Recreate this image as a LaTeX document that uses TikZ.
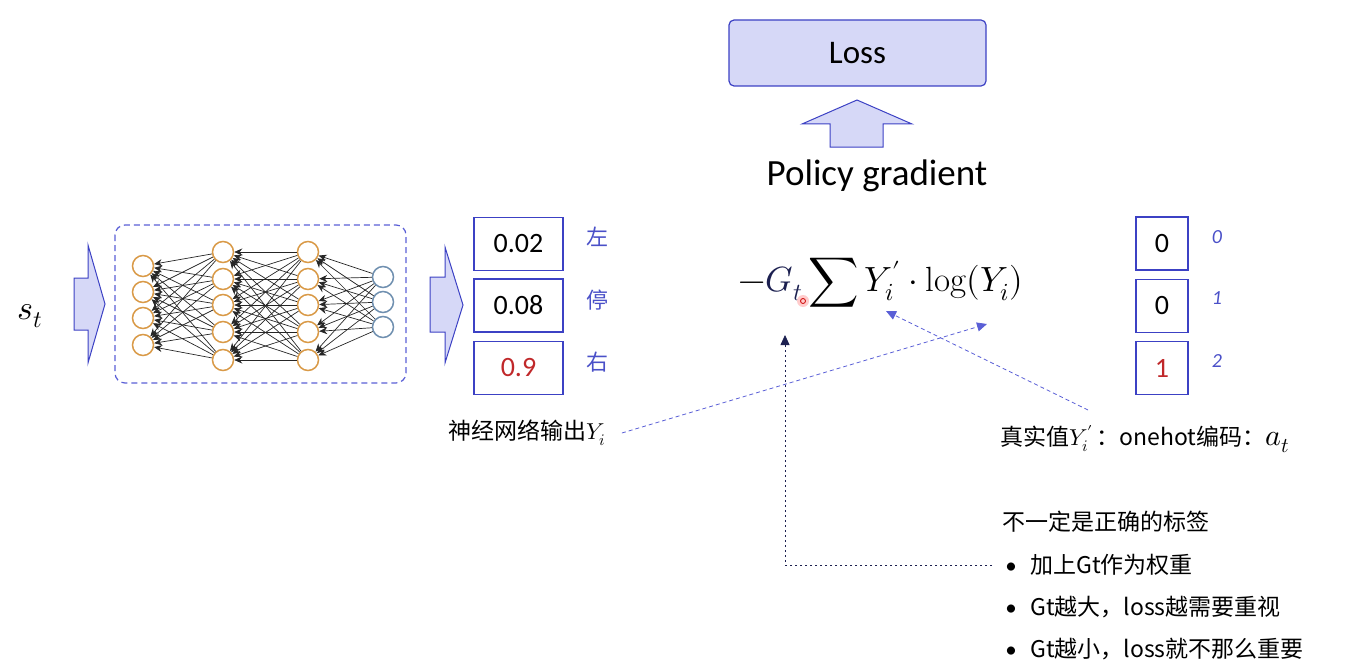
\documentclass[tikz,border=0pt]{standalone}
\usepackage{fontspec}
\usepackage{unicode-math}
\setmainfont{Carlito}
\setmathfont{Latin Modern Math}
\setmathrm{Latin Modern Roman}
\newfontfamily\cjk{Noto Sans CJK SC}
\usetikzlibrary{arrows.meta,positioning}

\definecolor{boxblue}{HTML}{3C41C4}
\definecolor{fillblue}{HTML}{D6D8F7}
\definecolor{dashblue}{HTML}{5A5FD6}
\definecolor{nnorange}{HTML}{D99A48}
\definecolor{nnblue}{HTML}{7090B0}
\definecolor{navy}{HTML}{1C2050}
\definecolor{hotred}{HTML}{C0282A}
\definecolor{labelblue}{HTML}{4A50C8}

\begin{document}
\begin{tikzpicture}[x=1pt,y=-1pt,
    neuron/.style={circle,draw=nnorange,line width=1.5pt,minimum size=21pt,inner sep=0pt},
    outneuron/.style={neuron,draw=nnblue},
    link/.style={line width=0.7pt,draw=black!85,-{Stealth[length=8pt,width=7pt]}},
    fatarrow/.style={draw=boxblue,fill=fillblue,line width=1pt,line join=miter},
    valbox/.style={draw=boxblue,line width=1.2pt,minimum width=89pt,minimum height=53pt,inner sep=0pt,font=\fontsize{28}{32}\selectfont},
    hotbox/.style={valbox,minimum width=52pt},
    dirlabel/.style={text=labelblue,font=\cjk\fontsize{22}{26}\selectfont},
    idxlabel/.style={text=labelblue,font=\itshape\fontsize{20}{24}\selectfont},
    note/.style={inner sep=0pt,font=\cjk\fontsize{23}{28}\selectfont},
    pointer/.style={draw=dashblue,line width=0.8pt,dash pattern=on 4pt off 3pt,-{Triangle[length=10pt,width=9pt]}},
    gtpointer/.style={draw=navy,line width=0.8pt,dash pattern=on 2.5pt off 2.5pt,-{Triangle[length=10pt,width=9pt]}}]
  \useasboundingbox (0,0) rectangle (1346,666);

  % input state
  \node[font=\fontsize{34}{40}\selectfont] (state) at (30,316) {$s_t$};
  \draw[fatarrow] (74,278) -- (88,278) -- (88,245) -- (105,304) -- (88,363) -- (88,330) -- (74,330) -- cycle;

  % network
  \draw[draw=dashblue,line width=1.2pt,dash pattern=on 6pt off 4pt,rounded corners=10pt] (115,225) rectangle (406,383);
  \foreach \y [count=\i] in {266,292,318,345}
    \node[neuron] (a\i) at (143,\y) {};
  \foreach \y [count=\i] in {252,279,305,332,360}
    \node[neuron] (b\i) at (223,\y) {};
  \foreach \y [count=\i] in {252,279,305,332,360}
    \node[neuron] (c\i) at (308,\y) {};
  \foreach \y [count=\i] in {277,302,327}
    \node[outneuron] (d\i) at (383,\y) {};
  \foreach \i in {1,...,5}
    \foreach \j in {1,...,4}
      \draw[link] (b\i) -- (a\j);
  \foreach \i in {1,...,5}
    \foreach \j in {1,...,5}
      \draw[link] (c\i) -- (b\j);
  \foreach \i in {1,...,3}
    \foreach \j in {1,...,5}
      \draw[link] (d\i) -- (c\j);

  % network output
  \draw[fatarrow] (430,277) -- (445,277) -- (445,247) -- (463,305) -- (445,363) -- (445,332) -- (430,332) -- cycle;
  \node[valbox] (p1) at (518.5,244) {0.02};
  \node[valbox] (p2) at (518.5,305.5) {0.08};
  \node[valbox] (p3) at (518.5,368) {\color{hotred}0.9};
  \node[dirlabel] (left) at (597,237) {左};
  \node[dirlabel] (stop) at (597,300) {停};
  \node[dirlabel] (right) at (597,362) {右};
  \node[note] (nnout) at (527,433) {神经网络输出$Y_i$};

  % loss
  \node[draw=boxblue,fill=fillblue,line width=1.2pt,rounded corners=5pt,minimum width=257pt,minimum height=66pt,
        font=\fontsize{33}{38}\selectfont] (loss) at (857.5,53) {Loss};
  \draw[fatarrow] (830,147) -- (830,124) -- (802,124) -- (857,100) -- (912,124) -- (883,124) -- (883,147) -- cycle;
  \node[font=\fontsize{37}{42}\selectfont] (pg) at (877,176) {Policy gradient};
  \node[font=\fontsize{35}{40}\selectfont] (formula) at (881,283)
    {$-{\color{navy}G_t}\displaystyle\sum Y_i'\cdot\log(Y_i)$};
  \fill[red!20] (803,301) circle (6pt);
  \draw[red!80!black,line width=0.8pt] (803,301) circle (2.5pt);

  % one-hot target
  \node[hotbox] (h0) at (1162,243.5) {0};
  \node[hotbox] (h1) at (1162,306) {0};
  \node[hotbox] (h2) at (1162,368) {\color{hotred}1};
  \node[idxlabel] (i0) at (1217,237) {0};
  \node[idxlabel] (i1) at (1217,298) {1};
  \node[idxlabel] (i2) at (1217,361) {2};
  \node[note,anchor=west] (truelabel) at (1000,439)
    {真实值$Y_i'$\,：onehot编码：{\fontsize{30}{36}\selectfont$a_t$}};

  % remarks
  \node[note,anchor=west] (caveat) at (1002,522) {不一定是正确的标签};
  \node[note,anchor=west] (weight) at (992,565) {\makebox[38pt][c]{\rmfamily •}加上Gt作为权重};
  \node[note,anchor=west] (bigger) at (992,607) {\makebox[38pt][c]{\rmfamily •}Gt越大，loss越需要重视};
  \node[note,anchor=west] (smaller) at (992,649) {\makebox[38pt][c]{\rmfamily •}Gt越小，loss就不那么重要};

  % pointers
  \coordinate (logtip) at (987,324);
  \coordinate (primetip) at (886,311);
  \coordinate (truestart) at (1088,410);
  \coordinate (gtmark) at (785,335);
  \draw[pointer] ([xshift=16pt]nnout.east) -- (logtip);
  \draw[pointer] (truestart) -- (primetip);
  \draw[gtpointer] (weight.west) -| (gtmark);
\end{tikzpicture}
\end{document}
